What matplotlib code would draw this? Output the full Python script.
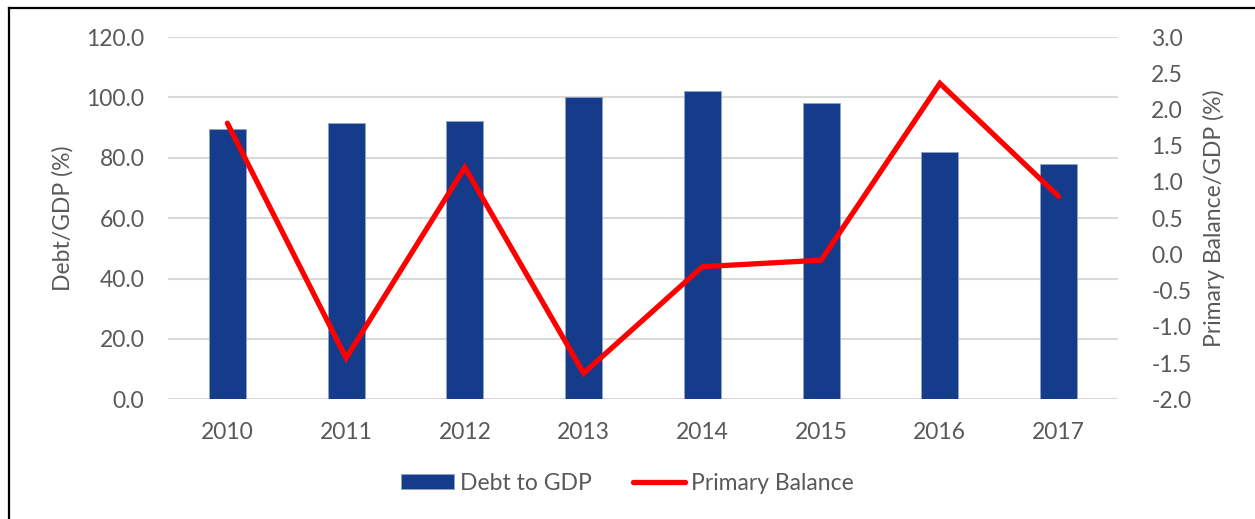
import matplotlib
matplotlib.use("Agg")
import matplotlib.pyplot as plt
from matplotlib.lines import Line2D
from matplotlib.ticker import FormatStrFormatter, MultipleLocator
import numpy as np

plt.rcParams['font.family'] = ['Lato', 'DejaVu Sans']

years = ["2010", "2011", "2012", "2013", "2014", "2015", "2016", "2017"]
debt_to_gdp = [89.4, 91.4, 92.2, 100.2, 102.1, 98.1, 81.9, 78.1]
primary_balance = [1.81, -1.43, 1.20, -1.64, -0.17, -0.08, 2.36, 0.80]

TXT = "#595959"
BLUE = "#143C8A"
RED = "#FF0000"
GRID = "#D9D9D9"
FS = 16.5

fig = plt.figure(figsize=(12.55, 5.19), dpi=100)
bx = 8.5 / 1255
by = 1 - 7.5 / 519
fig.add_artist(Line2D([bx, bx], [0, by], transform=fig.transFigure, color="black",
                      linewidth=1.6, solid_capstyle='projecting'))
fig.add_artist(Line2D([bx, 1.01], [by, by], transform=fig.transFigure, color="black",
                      linewidth=1.6, solid_capstyle='projecting'))

ax = fig.add_axes([168 / 1255, 1 - 399.3 / 519, (1118 - 168) / 1255, (399.3 - 37) / 519])
x = np.arange(len(years))
bars = ax.bar(x, debt_to_gdp, width=0.31, color=BLUE, edgecolor="#8FA3C8", linewidth=0.6,
              label="Debt to GDP", zorder=2)
ax.set_xlim(-0.5, len(years) - 0.5)
ax.set_ylim(0, 120)
ax.yaxis.set_major_locator(MultipleLocator(20))
ax.yaxis.set_major_formatter(FormatStrFormatter('%.1f'))
ax.set_xticks(x)
ax.set_xticklabels(years)
ax.grid(axis='y', color=GRID, linewidth=1.5, zorder=0)
ax.set_axisbelow(True)
for s in ax.spines.values():
    s.set_visible(False)
ax.tick_params(axis='both', length=0, labelsize=FS, labelcolor=TXT)
ax.tick_params(axis='y', pad=17)
ax.tick_params(axis='x', pad=16)
ax.set_ylabel("Debt/GDP (%)", fontsize=FS, color=TXT, labelpad=9)

ax2 = ax.twinx()
line, = ax2.plot(x, primary_balance, color=RED, linewidth=3.8, solid_capstyle='round',
                 solid_joinstyle='miter', label="Primary Balance", zorder=3)
ax2.set_ylim(-2.0, 3.0)
ax2.yaxis.set_major_locator(MultipleLocator(0.5))
ax2.yaxis.set_major_formatter(FormatStrFormatter('%.1f'))
for s in ax2.spines.values():
    s.set_visible(False)
ax2.tick_params(axis='y', length=0, labelsize=FS, labelcolor=TXT, pad=24)
ax2.set_ylabel("Primary Balance/GDP (%)", fontsize=FS, color=TXT, labelpad=8)

leg = fig.legend(handles=[bars, line], labels=["Debt to GDP", "Primary Balance"],
                 loc='center', bbox_to_anchor=(0.5, 1 - 483 / 519), ncol=2, frameon=False,
                 fontsize=FS, handlelength=2.3, handleheight=0.6, handletextpad=0.25,
                 columnspacing=1.8)
for t in leg.get_texts():
    t.set_color(TXT)

fig.savefig("out.png", dpi=100)
